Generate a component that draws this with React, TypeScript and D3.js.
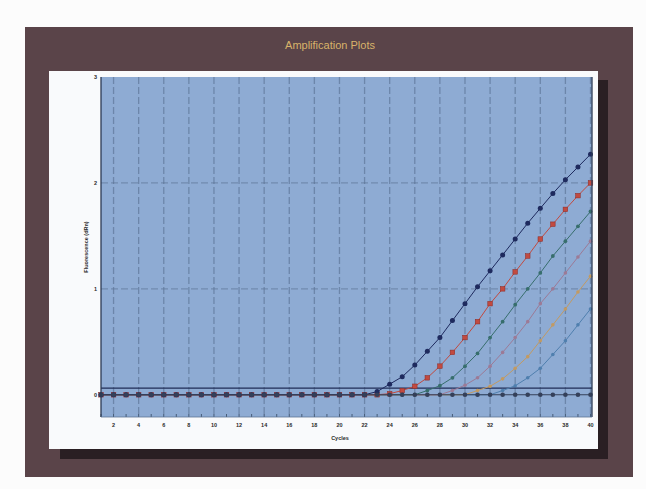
import * as d3 from "d3";

// amplification run, cycles 1..40
const cycles = [
  1, 2, 3, 4, 5, 6, 7, 8, 9, 10, 11, 12, 13, 14, 15, 16, 17, 18, 19, 20,
  21, 22, 23, 24, 25, 26, 27, 28, 29, 30, 31, 32, 33, 34, 35, 36, 37, 38, 39, 40,
];
const xTickLabels = [2, 4, 6, 8, 10, 12, 14, 16, 18, 20, 22, 24, 26, 28, 30, 32, 34, 36, 38, 40];
const yTickLabels = [0, 1, 2, 3];
const yGrid = [1, 2];
const threshold = 0.063;

const sample1 = [
  0, 0, 0, 0, 0, 0, 0, 0, 0, 0, 0, 0, 0, 0, 0, 0, 0, 0, 0, 0,
  0, 0, 0.03, 0.1, 0.17, 0.28, 0.41, 0.54, 0.7, 0.86, 1.02, 1.17, 1.32, 1.47, 1.62, 1.76, 1.9, 2.03, 2.15, 2.27,
];
const sample2 = [
  0, 0, 0, 0, 0, 0, 0, 0, 0, 0, 0, 0, 0, 0, 0, 0, 0, 0, 0, 0,
  0, 0, 0, 0.01, 0.04, 0.08, 0.16, 0.27, 0.4, 0.54, 0.69, 0.86, 1.0, 1.16, 1.31, 1.47, 1.61, 1.75, 1.88, 2.0,
];
const sample3 = [
  0, 0, 0, 0, 0, 0, 0, 0, 0, 0, 0, 0, 0, 0, 0, 0, 0, 0, 0, 0,
  0, 0, 0, 0, 0, 0, 0.04, 0.085, 0.16, 0.27, 0.39, 0.54, 0.69, 0.85, 1.0, 1.15, 1.31, 1.45, 1.59, 1.73,
];
const sample4 = [
  0, 0, 0, 0, 0, 0, 0, 0, 0, 0, 0, 0, 0, 0, 0, 0, 0, 0, 0, 0,
  0, 0, 0, 0, 0, 0, 0, 0, 0.04, 0.09, 0.16, 0.27, 0.4, 0.54, 0.69, 0.86, 1.0, 1.15, 1.3, 1.45,
];
const sample5 = [
  0, 0, 0, 0, 0, 0, 0, 0, 0, 0, 0, 0, 0, 0, 0, 0, 0, 0, 0, 0,
  0, 0, 0, 0, 0, 0, 0, 0, 0, 0, 0.04, 0.08, 0.15, 0.25, 0.36, 0.51, 0.66, 0.81, 0.97, 1.12,
];
const sample6 = [
  0, 0, 0, 0, 0, 0, 0, 0, 0, 0, 0, 0, 0, 0, 0, 0, 0, 0, 0, 0,
  0, 0, 0, 0, 0, 0, 0, 0, 0, 0, 0, 0, 0.04, 0.085, 0.16, 0.25, 0.38, 0.51, 0.66, 0.81,
];
const ntc = [
  0, 0, 0, 0, 0, 0, 0, 0, 0, 0, 0, 0, 0, 0, 0, 0, 0, 0, 0, 0,
  0, 0, 0, 0, 0, 0, 0, 0, 0, 0, 0, 0, 0, 0, 0, 0, 0, 0, 0, 0,
];

// drawn back to front
const series = [
  { name: "S6", values: sample6, color: "#4f7fae", marker: "circle", r: 1.8 },
  { name: "S5", values: sample5, color: "#c29a62", marker: "circle", r: 1.8 },
  { name: "S4", values: sample4, color: "#9c7a96", marker: "circle", r: 1.8 },
  { name: "S3", values: sample3, color: "#376e6c", marker: "circle", r: 1.9 },
  { name: "S2", values: sample2, color: "#c24a40", marker: "square", r: 2.3 },
  { name: "S1", values: sample1, color: "#1e2a5e", marker: "circle", r: 2.5 },
  { name: "NTC", values: ntc, color: "#34405a", marker: "circle", r: 2.3 },
];

const W = 646;
const H = 489;
const plot = { left: 101, top: 77, right: 592, bottom: 417 };

export default function App() {
  const x = d3.scaleLinear().domain([1, 40]).range([plot.left, 590.5]);
  const y = d3.scaleLinear().domain([-0.21, 3]).range([plot.bottom, plot.top]);

  const line = (vals: number[]) =>
    d3.line<number>()
      .x((_, i) => x(cycles[i]))
      .y((v) => y(v))(vals) || "";

  return (
    <svg
      width={W}
      height={H}
      style={{ position: "absolute", left: 0, top: 0, background: "#fcfcfc" }}
      fontFamily="'Liberation Sans', Arial, sans-serif"
    >
      {/* outer frame */}
      <rect x={25} y={27} width={608} height={450} fill="#5a4449" />
      <text x={330} y={49} textAnchor="middle" fontSize={11} fill="#d8b36a">
        Amplification Plots
      </text>

      {/* panel shadow + panel */}
      <rect x={598} y={80} width={10} height={379} fill="#2a1f23" />
      <rect x={60} y={449} width={548} height={10} fill="#2a1f23" />
      <rect x={49} y={71} width={549} height={378} fill="#f9fafc" />

      {/* plot area */}
      <rect
        x={plot.left}
        y={plot.top}
        width={plot.right - plot.left}
        height={plot.bottom - plot.top}
        fill="#8eabd3"
      />

      {/* grid */}
      {xTickLabels.map((c) => (
        <line
          key={"gx" + c}
          x1={x(c)}
          x2={x(c)}
          y1={plot.top}
          y2={plot.bottom}
          stroke="#5e7698"
          strokeOpacity={0.7}
          strokeWidth={1.3}
          strokeDasharray="7,3"
        />
      ))}
      {yGrid.map((v) => (
        <line
          key={"gy" + v}
          x1={plot.left}
          x2={plot.right}
          y1={y(v)}
          y2={y(v)}
          stroke="#5e7698"
          strokeOpacity={0.6}
          strokeWidth={1.2}
          strokeDasharray="7,3"
        />
      ))}

      {/* small ticks along bottom */}
      {cycles.map((c) => (
        <line
          key={"t" + c}
          x1={x(c)}
          x2={x(c)}
          y1={plot.bottom - 3}
          y2={plot.bottom}
          stroke="#34465f"
          strokeWidth={0.8}
        />
      ))}

      {/* threshold */}
      <line
        x1={plot.left}
        x2={plot.right}
        y1={y(threshold)}
        y2={y(threshold)}
        stroke="#1f2d57"
        strokeWidth={1.2}
      />

      {/* curves */}
      {series.map((s) => (
        <g key={s.name}>
          <path d={line(s.values)} fill="none" stroke={s.color} strokeWidth={1} />
          {s.values.map((v, i) =>
            s.marker === "square" ? (
              <rect
                key={i}
                x={x(cycles[i]) - s.r}
                y={y(v) - s.r}
                width={s.r * 2}
                height={s.r * 2}
                fill={s.color}
                stroke="#8a2a26"
                strokeWidth={0.5}
              />
            ) : (
              <circle key={i} cx={x(cycles[i])} cy={y(v)} r={s.r} fill={s.color} />
            )
          )}
        </g>
      ))}

      {/* plot border */}
      <line x1={plot.left} x2={plot.left} y1={plot.top} y2={plot.bottom} stroke="#2c3a52" strokeWidth={1.3} />
      <line x1={plot.right} x2={plot.right} y1={plot.top} y2={plot.bottom} stroke="#2c3a52" strokeWidth={1.3} />
      <line x1={plot.left} x2={plot.right} y1={plot.bottom} y2={plot.bottom} stroke="#5d7594" strokeWidth={0.8} />

      {/* axis labels */}
      {xTickLabels.map((c) => (
        <text
          key={"xl" + c}
          x={x(c)}
          y={427}
          textAnchor="middle"
          fontSize={5.5}
          fontWeight="bold"
          fill="#2a2a2a"
        >
          {c}
        </text>
      ))}
      {yTickLabels.map((v) => (
        <text
          key={"yl" + v}
          x={97}
          y={y(v) + 2}
          textAnchor="end"
          fontSize={5.5}
          fontWeight="bold"
          fill="#2a2a2a"
        >
          {v}
        </text>
      ))}
      <text x={340} y={440} textAnchor="middle" fontSize={5.5} fontWeight="bold" fill="#2a2a2a">
        Cycles
      </text>
      <text
        transform="translate(88,247) rotate(-90)"
        textAnchor="middle"
        fontSize={5.5}
        fontWeight="bold"
        fill="#2a2a2a"
      >
        Fluorescence (dRn)
      </text>
    </svg>
  );
}
